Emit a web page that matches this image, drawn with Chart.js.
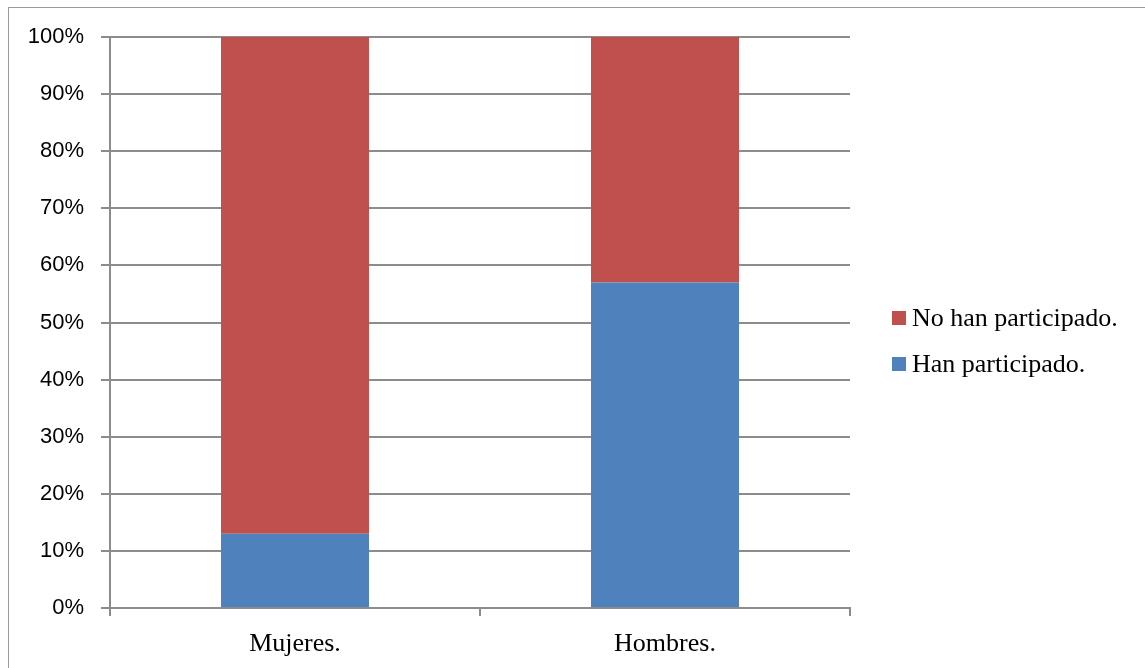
<!DOCTYPE html>
<html>
<head>
<meta charset="utf-8">
<script src="https://cdn.jsdelivr.net/npm/chart.js@4/dist/chart.umd.min.js"></script>
<style>
  html, body { margin: 0; padding: 0; background: #fff; overflow: hidden; }
  #wrap { position: absolute; left: 0; top: 0; width: 1145px; height: 668px; }
</style>
</head>
<body>
<div id="wrap"><canvas id="c" width="1145" height="668"></canvas></div>
<script>
// Participation share by sex (percent of each group)
const categories = ['Mujeres.', 'Hombres.'];
const hanParticipado = [13, 57];
const noHanParticipado = [87, 43];
const seriesNames = ['Han participado.', 'No han participado.'];
const yTicks = [0, 10, 20, 30, 40, 50, 60, 70, 80, 90, 100];

const BLUE = '#4F81BD';
const RED = '#C0504D';
const AXIS = '#8c8c8c';

// Outer frame of the chart object
const framePlugin = {
  id: 'frame',
  beforeDraw(chart) {
    const ctx = chart.ctx;
    ctx.save();
    ctx.fillStyle = '#fff';
    ctx.fillRect(0, 0, chart.width, chart.height);
    ctx.strokeStyle = '#9a9a9a';
    ctx.lineWidth = 1;
    ctx.strokeRect(8.5, 7.5, chart.width + 20, chart.height + 20);
    ctx.restore();
  }
};

// Legend on the right, last series listed first
const sideLegend = {
  id: 'sideLegend',
  afterDraw(chart) {
    const ctx = chart.ctx;
    const sets = chart.data.datasets.slice().reverse();
    const x0 = 892, y0 = 318, gap = 46, box = 14;
    ctx.save();
    ctx.font = '26px "Liberation Serif", "Times New Roman", serif';
    ctx.textBaseline = 'middle';
    ctx.textAlign = 'left';
    sets.forEach((ds, i) => {
      const cy = y0 + i * gap;
      ctx.fillStyle = ds.backgroundColor;
      ctx.fillRect(x0, cy - box / 2, box, box);
      ctx.fillStyle = '#000';
      ctx.fillText(ds.label, x0 + 20, cy + 1);
    });
    ctx.restore();
  }
};

new Chart(document.getElementById('c'), {
  type: 'bar',
  data: {
    labels: categories,
    datasets: [
      { label: seriesNames[0], data: hanParticipado, backgroundColor: BLUE, borderWidth: 0 },
      { label: seriesNames[1], data: noHanParticipado, backgroundColor: RED, borderWidth: 0 }
    ]
  },
  options: {
    responsive: false,
    animation: false,
    events: [],
    layout: { padding: { left: 0, top: 37, right: 295, bottom: 0 } },
    datasets: { bar: { categoryPercentage: 1.0, barPercentage: 0.4 } },
    plugins: { legend: { display: false }, tooltip: { enabled: false } },
    scales: {
      x: {
        stacked: true,
        afterFit(scale) { scale.height = 60; },
        grid: { offset: true, drawOnChartArea: false, drawTicks: true, tickLength: 8, color: AXIS, lineWidth: 2 },
        border: { display: true, color: AXIS, width: 2 },
        ticks: { color: '#000', padding: 13, font: { family: '"Liberation Serif", "Times New Roman", serif', size: 26 } }
      },
      y: {
        stacked: true,
        min: 0,
        max: 100,
        afterFit(scale) { scale.width = 110; },
        afterBuildTicks(scale) { scale.ticks = yTicks.map(v => ({ value: v })); },
        grid: { color: AXIS, lineWidth: 2, tickLength: 9, drawTicks: true },
        border: { display: true, color: AXIS, width: 2 },
        ticks: {
          color: '#000',
          padding: 17,
          font: { family: '"Liberation Sans", Arial, sans-serif', size: 22 },
          callback: v => v + '%'
        }
      }
    }
  },
  plugins: [framePlugin, sideLegend]
});
</script>
</body>
</html>
